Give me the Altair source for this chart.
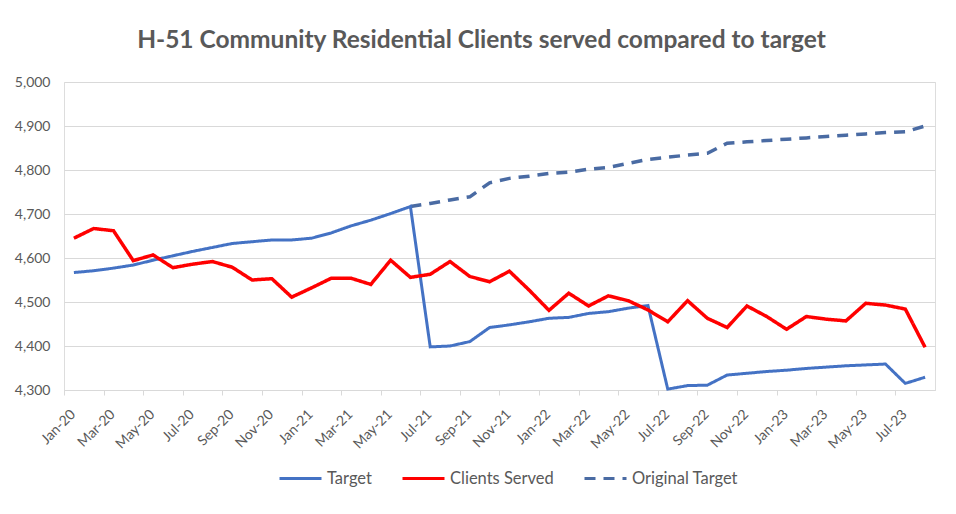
import altair as alt
import pandas as pd

months = ["Jan-20", "Feb-20", "Mar-20", "Apr-20", "May-20", "Jun-20", "Jul-20", "Aug-20", "Sep-20", "Oct-20", "Nov-20", "Dec-20",
          "Jan-21", "Feb-21", "Mar-21", "Apr-21", "May-21", "Jun-21", "Jul-21", "Aug-21", "Sep-21", "Oct-21", "Nov-21", "Dec-21",
          "Jan-22", "Feb-22", "Mar-22", "Apr-22", "May-22", "Jun-22", "Jul-22", "Aug-22", "Sep-22", "Oct-22", "Nov-22", "Dec-22",
          "Jan-23", "Feb-23", "Mar-23", "Apr-23", "May-23", "Jun-23", "Jul-23", "Aug-23"]

target = [4567, 4571, 4577, 4584, 4595, 4605, 4615, 4624, 4633, 4637, 4641, 4641, 4645, 4657, 4673, 4686, 4701, 4717,
          4398, 4400, 4410, 4442, 4448, 4455, 4463, 4465, 4474, 4478, 4486, 4492,
          4302, 4310, 4311, 4334, 4338, 4342, 4345, 4349, 4352, 4355, 4357, 4359, 4315, 4329]

clients_served = [4645, 4667, 4662, 4594, 4607, 4578, 4586, 4592, 4579, 4550, 4553, 4511, 4532, 4554,
                  4554, 4540, 4595, 4556, 4563, 4592, 4558, 4546, 4570, 4527, 4481, 4520, 4491, 4514, 4503,
                  4482, 4455, 4503, 4463, 4442, 4491, 4467, 4438, 4467, 4461, 4457, 4497, 4493, 4484, 4397]

original_target = [None] * 17 + [4717, 4724, 4732, 4739, 4771, 4781, 4786, 4792, 4795, 4802, 4806, 4815, 4824,
                                 4829, 4834, 4838, 4861, 4864, 4867, 4870, 4873, 4876, 4879, 4882, 4885, 4887, 4900]

series_names = ["Target", "Clients Served", "Original Target"]
series_colors = ["#4472C4", "#FF0000", "#4A6BA3"]
series_dash = [[1, 0], [1, 0], [11, 8]]
y_ticks = [4300, 4400, 4500, 4600, 4700, 4800, 4900, 5000]

rows = []
for name, vals in zip(series_names, [target, clients_served, original_target]):
    for m, v in zip(months, vals):
        if v is not None:
            rows.append({"month": m, "series": name, "value": v})
df = pd.DataFrame(rows)

FONT = "Lato"
GRAY = "#595959"

x_enc = alt.X("month:N", sort=months, title=None,
              scale=alt.Scale(type="point", padding=0.5),
              axis=alt.Axis(values=months[::2], labelAngle=-45, labelFontSize=14, labelColor=GRAY,
                            labelFont=FONT, labelPadding=12, labelOffset=4, tickSize=5, tickColor="#D9D9D9",
                            tickOffset=-9.9, domainColor="#D9D9D9", grid=False))
y_enc = alt.Y("value:Q", title=None,
              scale=alt.Scale(domain=[4300, 5000], nice=False, zero=False),
              axis=alt.Axis(values=y_ticks, format=",.0f", labelFontSize=14, labelColor=GRAY, labelFont=FONT,
                            ticks=False, domain=False, labelPadding=14, gridColor="#D9D9D9", gridWidth=1))
legend_cfg = dict(title=None, orient="none", direction="horizontal",
                  legendX=214, legendY=374, symbolType="stroke", symbolSize=1764,
                  symbolStrokeWidth=3, labelFontSize=16.5, labelFont=FONT, labelColor=GRAY,
                  labelOffset=4, columnPadding=24)
color_enc = alt.Color("series:N", scale=alt.Scale(domain=series_names, range=series_colors),
                      legend=alt.Legend(**legend_cfg))
dash_enc = alt.StrokeDash("series:N", scale=alt.Scale(domain=series_names, range=series_dash),
                          legend=alt.Legend(**legend_cfg))

base = alt.Chart(df)
layers = []
for name, sw in [("Original Target", 3.5), ("Target", 3), ("Clients Served", 3.5)]:
    layers.append(base.transform_filter(alt.datum.series == name)
                  .mark_line(strokeWidth=sw, strokeCap="butt")
                  .encode(x=x_enc, y=y_enc, color=color_enc, strokeDash=dash_enc))

chart = alt.layer(*layers).properties(
    width=871, height=308,
    title=alt.Title("H-51 Community Residential Clients served compared to target",
                    fontSize=24.5, font=FONT, fontWeight="bold", color=GRAY, anchor="middle",
                    dx=-18, offset=22),
    autosize=alt.AutoSizeParams(type="none"),
    padding={"left": 56, "top": 74, "right": 13, "bottom": 116},
).configure_view(stroke=None).configure(background="white")

chart.save("out.html", embed_options={"renderer": "svg", "actions": False})
